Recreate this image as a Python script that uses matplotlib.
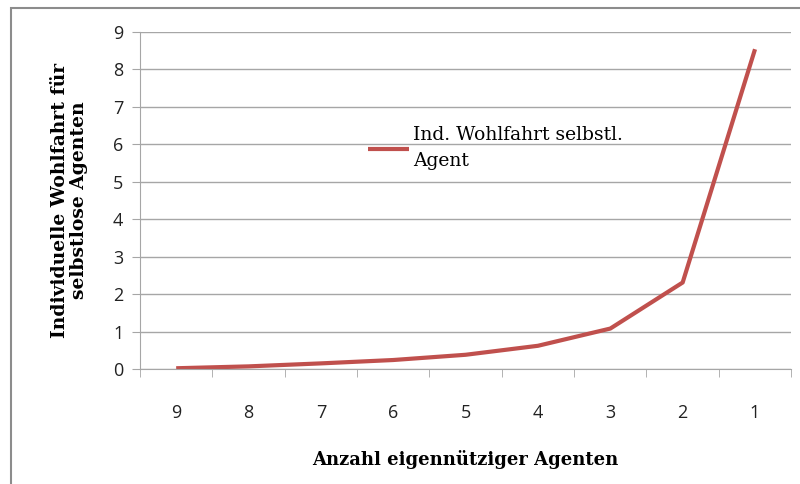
import matplotlib
matplotlib.use("Agg")
import matplotlib.pyplot as plt
from matplotlib.patches import Rectangle

# data
categories = ["9", "8", "7", "6", "5", "4", "3", "2", "1"]
welfare = [0.02, 0.07, 0.15, 0.24, 0.38, 0.62, 1.08, 2.31, 8.54]

line_color = "#C0504D"
grid_color = "#A6A6A6"

fig = plt.figure(figsize=(8, 4.84), dpi=100)
ax = fig.add_axes([0.175, 0.2376, 0.814, 0.6963])

# outer chart border
fig.patches.append(Rectangle((11 / 800, -0.2), 1.2, 1.2 - 8 / 484,
                             transform=fig.transFigure, fill=False,
                             edgecolor="#8C8C8C", lw=1.5))

x = list(range(len(categories)))
ax.plot(x, welfare, color=line_color, lw=3, solid_capstyle="butt",
        label="Ind. Wohlfahrt selbstl.\nAgent")

ax.set_xlim(-0.5, len(categories) - 0.5)
ax.set_ylim(0, 9)
ax.set_yticks(range(0, 10))
ax.set_xticks(x)
ax.set_xticklabels(categories)
ax.set_xticks([i - 0.5 for i in range(len(categories) + 1)], minor=True)

ax.yaxis.grid(True, color=grid_color, lw=1)
ax.set_axisbelow(True)
for s in ["top", "right"]:
    ax.spines[s].set_visible(False)
ax.spines["left"].set_color(grid_color)
ax.spines["bottom"].set_color(grid_color)

ax.tick_params(axis="x", which="major", length=0, pad=25,
               labelsize=13, labelcolor="#222222")
ax.tick_params(axis="x", which="minor", length=6, color=grid_color)
ax.tick_params(axis="y", length=6, color=grid_color, pad=6,
               labelsize=13, labelcolor="#222222")
for lab in ax.get_xticklabels() + ax.get_yticklabels():
    lab.set_fontfamily("Open Sans")

ax.set_xlabel("Anzahl eigennütziger Agenten", fontfamily="DejaVu Serif",
              fontweight="bold", fontsize=13, labelpad=20)
ax.set_ylabel("Individuelle Wohlfahrt für\nselbstlose Agenten",
              fontfamily="DejaVu Serif", fontweight="bold", fontsize=13.5,
              labelpad=18, linespacing=1.1)

leg = ax.legend(loc="upper left", bbox_to_anchor=(0.35, 0.72), frameon=False,
                prop={"family": "DejaVu Serif", "size": 13.5},
                handlelength=2.2, handletextpad=0.2, borderpad=0,
                borderaxespad=0)
leg.get_texts()[0].set_linespacing(1.55)

fig.savefig("out.png", dpi=100)
